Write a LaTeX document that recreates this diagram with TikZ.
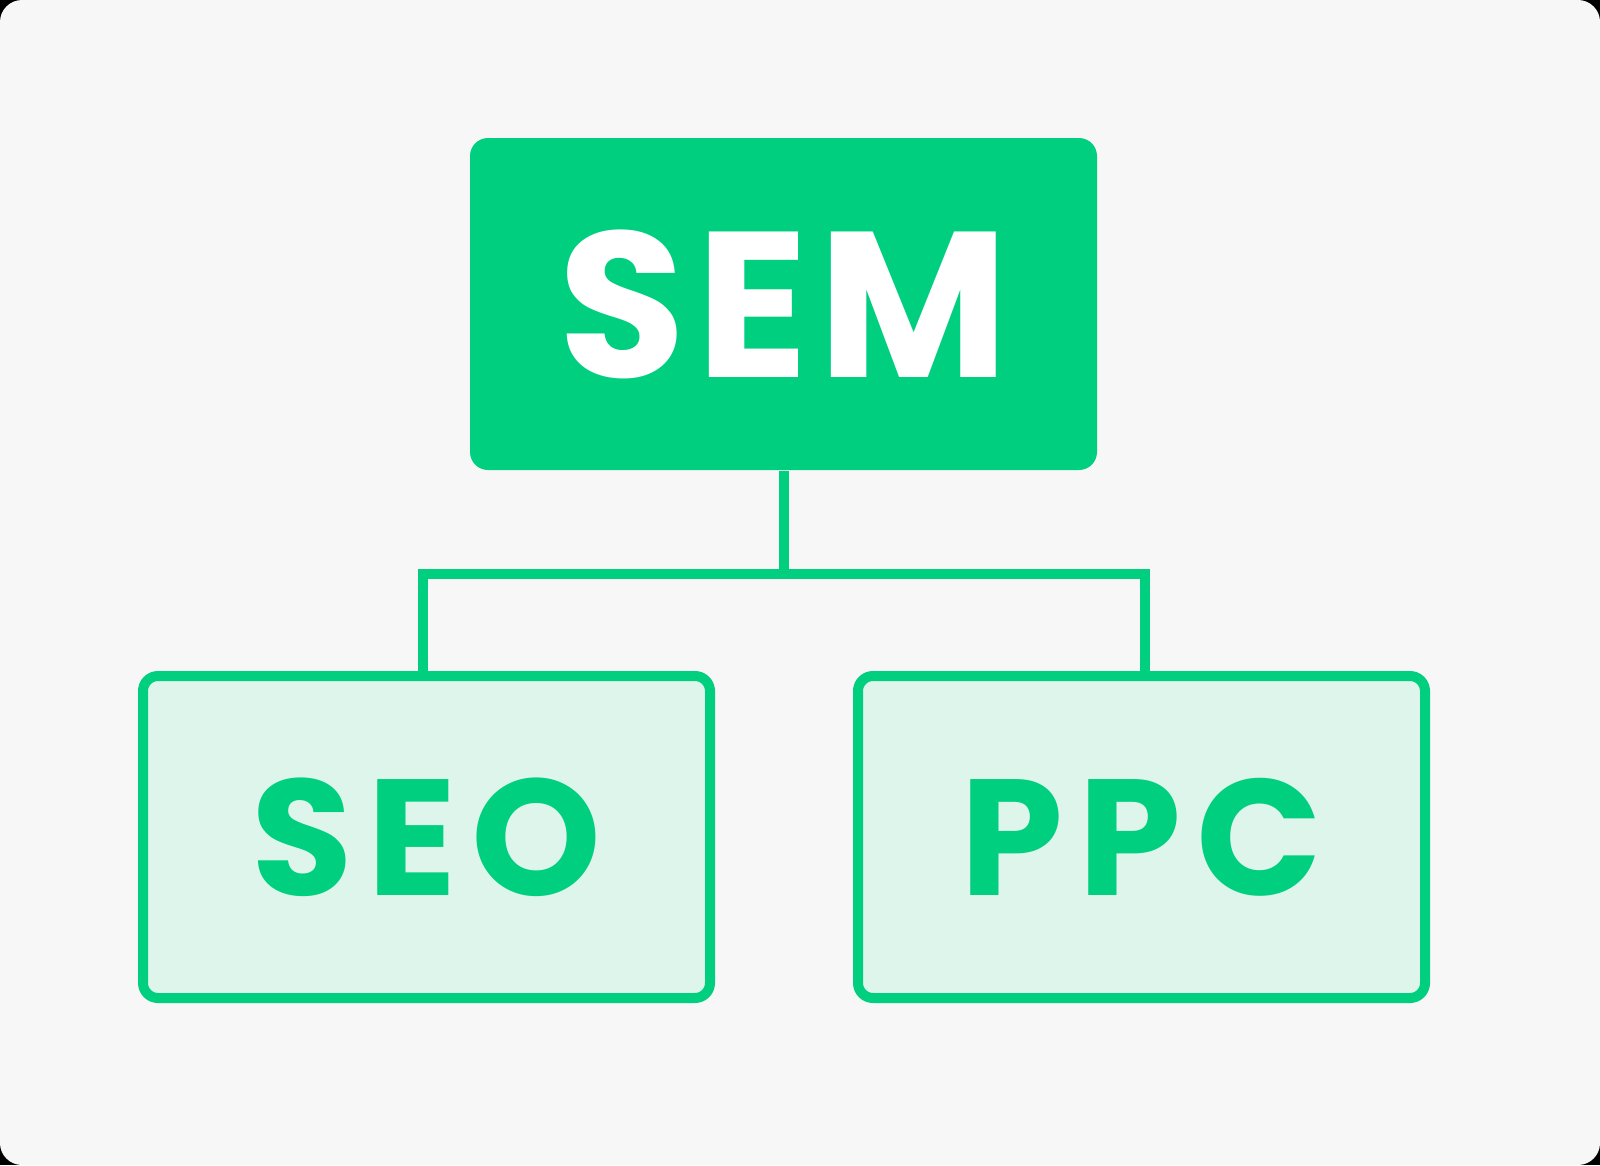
\documentclass[tikz,border=0pt]{standalone}
\usepackage{fontspec}
\setmainfont{Poppins}
\newfontfamily\rootfont[LetterSpace=5]{Poppins}
\newfontfamily\childfont[LetterSpace=9]{Poppins}
\usetikzlibrary{positioning,calc}
\definecolor{semgreen}{RGB}{0,207,127}
\definecolor{palegreen}{RGB}{222,245,236}
\definecolor{canvasgray}{RGB}{247,247,247}
\tikzset{
    % Diagram styles
    rootbox/.style={
        rectangle, fill=semgreen, draw=none,
        minimum width=6.27cm, minimum height=3.32cm,
        rounded corners=0.18cm, text=white,
        font=\rootfont\fontsize{59}{60}\selectfont\bfseries
    },
    childbox/.style={
        rectangle, draw=semgreen, line width=0.1cm, fill=palegreen,
        minimum width=5.67cm, minimum height=3.22cm,
        rounded corners=0.15cm, text=semgreen,
        font=\childfont\fontsize{47}{48}\selectfont\bfseries
    },
    link/.style={
        draw=semgreen, line width=0.1cm, line join=miter
    }
}
\begin{document}
\begin{tikzpicture}

% Canvas
\fill[black] (0,0) rectangle (16,11.65);
\fill[canvasgray, rounded corners=0.22cm] (0,0) rectangle (16,11.65);
\useasboundingbox (0,0) rectangle (16,11.65);

% Top level
\node[rootbox] (sem) at (7.835,8.61) {SEM};

% Second level
\node[childbox] (seo) at (4.265,3.28) {SEO};
\node[childbox] (ppc) at (11.415,3.28) {PPC};

% Connectors
\draw[link] (sem.south) -- ++(0,-1.03) coordinate (split);
\draw[link] ([xshift=-0.035cm]seo.north) |- (split) -| ([xshift=0.035cm]ppc.north);

\end{tikzpicture}
\end{document}
